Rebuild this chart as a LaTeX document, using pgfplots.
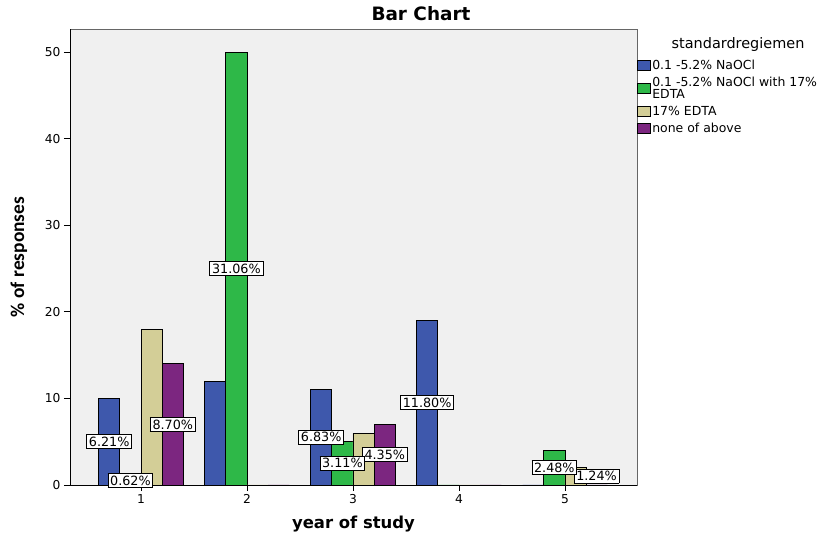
\documentclass[border=0pt]{standalone}
\usepackage{fontspec}
\setmainfont{DejaVu Sans}
\newfontfamily\ylabfont{Carlito}
\usepackage{pgfplots}
\pgfplotsset{compat=1.18}
\usepackage{pgfplotstable}

\definecolor{cA}{RGB}{62,88,172}
\definecolor{cB}{RGB}{46,184,72}
\definecolor{cC}{RGB}{211,206,151}
\definecolor{cD}{RGB}{124,38,128}
\definecolor{plotbg}{RGB}{240,240,240}

% counts per year of study, the percentage label shown on the bar (empty = none)
% and a sideways nudge of that label (bp)
\pgfplotstableread{
year n lab dx
1 10 6.21 0
2 12 {} 0
3 11 6.83 0
4 19 11.80 0
5 0 {} 0
}\naocl
\pgfplotstableread{
year n lab dx
1 1 0.62 0
2 50 31.06 0
3 5 3.11 0
4 0 {} 0
5 4 2.48 0
}\naocledta
\pgfplotstableread{
year n lab dx
1 18 {} 0
2 0 {} 0
3 6 {} 0
4 0 {} 0
5 2 1.24 21
}\edta
\pgfplotstableread{
year n lab dx
1 14 8.70 0
2 0 {} 0
3 7 4.35 0
4 0 {} 0
5 0 {} 0
}\none

\newcommand{\barlabel}{\edef\tmp{\pgfplotspointmeta}\ifx\tmp\empty\else
  \setlength{\fboxsep}{1.8bp}\setlength{\fboxrule}{0.8bp}%
  \fcolorbox{black}{white}{\pgfplotspointmeta\%}\fi}

\pgfplotsset{
  barlabels/.style={draw=none, fill=none, forget plot,
    point meta=explicit symbolic,
    nodes near coords=\barlabel,
    visualization depends on={rawy \as \rawy},
    visualization depends on={\thisrow{dx} \as \dx},
    every node near coord/.append style={anchor=center, inner sep=0pt,
      yshift=-4.33bp*\rawy, xshift=\dx bp, font=\fontsize{12.8}{15}\selectfont}},
}

\begin{document}
\begin{tikzpicture}
\begin{axis}[
  x=106bp, y=8.66bp,
  xmin=0.33, xmax=5.68, ymin=0, ymax=52.66,
  ybar, bar width=0.2,
  axis background/.style={fill=plotbg, draw=black!60, line width=0.8bp},
  axis x line*=bottom, axis y line*=left,
  axis line style={black, line width=0.8bp},
  xtick={1,2,3,4,5}, ytick={0,10,20,30,40,50},
  tick align=outside, major tick length=6bp,
  tick style={black, line width=0.8bp},
  /pgf/number format/assume math mode=true,
  ticklabel style={font=\fontsize{12.3}{14}\selectfont},
  title={Bar Chart},
  title style={font=\bfseries\fontsize{18.5}{20}\selectfont, at={(0.619,1)}, anchor=south, inner sep=0pt, yshift=2bp},
  xlabel={year of study},
  every axis x label/.style={at={(axis description cs:0.5,-0.085)}, anchor=center,
    font=\bfseries\fontsize{16.5}{18}\selectfont},
  ylabel={\% of responses},
  every axis y label/.style={at={(axis description cs:-0.09,0.5)}, rotate=90, anchor=center,
    font=\ylabfont\bfseries\fontsize{19.5}{21}\selectfont},
  legend style={at={(axis description cs:1,0.935)}, anchor=north west, draw=none, fill=none,
    inner sep=0pt, outer sep=0pt, row sep=3bp,
    nodes={inner sep=1.5bp, align=left, font=\fontsize{12.5}{12.3}\selectfont}},
  legend cell align=left,
  legend image code/.code={\draw[#1, draw=black, line width=0.8bp] (0bp,-5bp) rectangle (13bp,5bp);},
]
\addplot[fill=cA, draw=black, line width=0.8bp, bar shift=-0.3] table[x=year, y=n]{\naocl};
\addlegendentry{0.1 -5.2\% NaOCl}
\addplot[fill=cB, draw=black, line width=0.8bp, bar shift=-0.1] table[x=year, y=n]{\naocledta};
\addlegendentry{0.1 -5.2\% NaOCl with 17\%\\EDTA}
\addplot[fill=cC, draw=black, line width=0.8bp, bar shift=0.1] table[x=year, y=n]{\edta};
\addlegendentry{17\% EDTA}
\addplot[fill=cD, draw=black, line width=0.8bp, bar shift=0.3] table[x=year, y=n]{\none};
\addlegendentry{none of above}

% labels drawn last, so that they lie over the bars
\addplot[barlabels, bar shift=0.3] table[x=year, y=n, meta=lab]{\none};
\addplot[barlabels, bar shift=0.1] table[x=year, y=n, meta=lab]{\edta};
\addplot[barlabels, bar shift=-0.3] table[x=year, y=n, meta=lab]{\naocl};
\addplot[barlabels, bar shift=-0.1] table[x=year, y=n, meta=lab]{\naocledta};
\end{axis}
\node[font=\fontsize{14.5}{16}\selectfont, anchor=center] at ([xshift=101bp, yshift=-16bp]current axis.north east) {standardregiemen};
\path ([shift={(-70bp,-52bp)}]current axis.south west) rectangle ([shift={(194bp,29bp)}]current axis.north east);
\end{tikzpicture}
\end{document}
